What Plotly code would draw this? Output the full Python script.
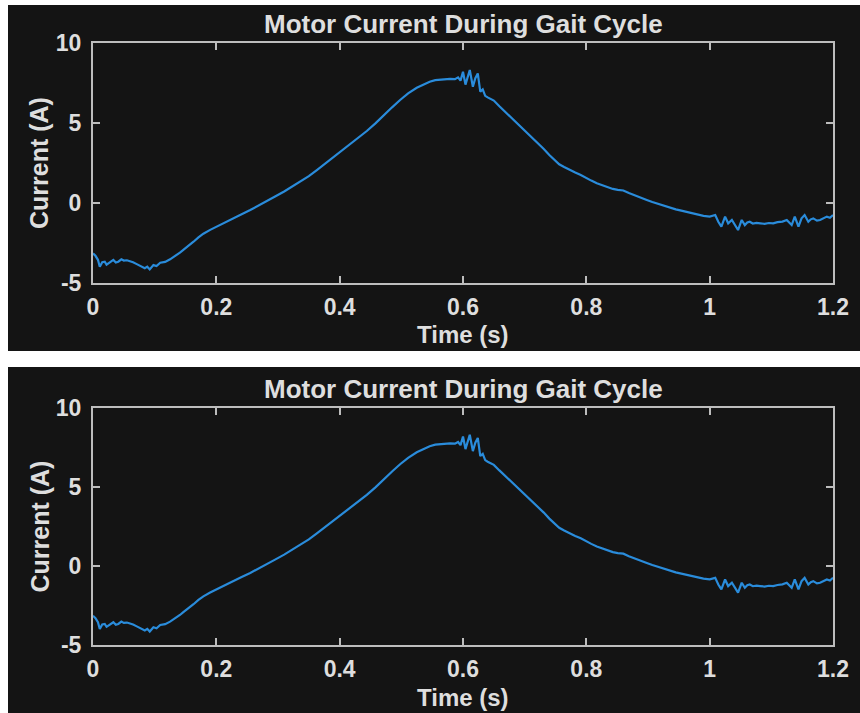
import plotly.graph_objects as go

# Motor current samples over one gait cycle
time_s = [
    0.000, 0.004, 0.008, 0.011, 0.015, 0.019, 0.022, 0.025, 0.029, 0.033,
    0.037, 0.041, 0.046, 0.050, 0.055, 0.060, 0.065, 0.071, 0.077, 0.084,
    0.088, 0.092, 0.098, 0.103, 0.109, 0.117, 0.125, 0.130, 0.136, 0.141,
    0.146, 0.155, 0.163, 0.171, 0.179, 0.190, 0.200, 0.213, 0.227, 0.241,
    0.255, 0.268, 0.282, 0.296, 0.310, 0.323, 0.336, 0.350, 0.363, 0.377,
    0.390, 0.404, 0.417, 0.431, 0.444, 0.458, 0.471, 0.485, 0.498, 0.511,
    0.525, 0.536, 0.546, 0.555, 0.563, 0.571, 0.579, 0.587, 0.592, 0.596,
    0.600, 0.604, 0.608, 0.611, 0.616, 0.620, 0.624, 0.628, 0.632, 0.636,
    0.640, 0.645, 0.650, 0.659, 0.668, 0.677, 0.686, 0.695, 0.704, 0.713,
    0.722, 0.731, 0.740, 0.748, 0.756, 0.764, 0.773, 0.782, 0.791, 0.800,
    0.808, 0.817, 0.826, 0.835, 0.843, 0.851, 0.860, 0.869, 0.878, 0.888,
    0.898, 0.907, 0.916, 0.926, 0.936, 0.945, 0.954, 0.963, 0.972, 0.981,
    0.990, 1.000, 1.005, 1.009, 1.014, 1.019, 1.025, 1.030, 1.036, 1.041,
    1.046, 1.052, 1.057, 1.061, 1.065, 1.070, 1.076, 1.082, 1.089, 1.096,
    1.103, 1.110, 1.118, 1.125, 1.133, 1.138, 1.144, 1.149, 1.154, 1.160,
    1.164, 1.168, 1.174, 1.179, 1.185, 1.190, 1.195, 1.200,
]
current_a = [
    -3.15, -3.30, -3.55, -3.98, -3.70, -3.67, -3.85, -3.77, -3.62, -3.56,
    -3.72, -3.67, -3.52, -3.60, -3.58, -3.62, -3.70, -3.82, -3.92, -4.08,
    -3.98, -4.15, -3.88, -3.94, -3.73, -3.68, -3.52, -3.40, -3.25, -3.10,
    -2.94, -2.68, -2.42, -2.15, -1.92, -1.68, -1.48, -1.22, -0.96, -0.70,
    -0.44, -0.18, 0.12, 0.42, 0.72, 1.02, 1.33, 1.68, 2.06, 2.48,
    2.90, 3.30, 3.73, 4.12, 4.50, 4.98, 5.48, 5.98, 6.44, 6.85,
    7.20, 7.42, 7.58, 7.68, 7.72, 7.75, 7.76, 7.74, 7.85, 7.65,
    8.20, 7.40, 8.00, 8.31, 7.27, 7.80, 8.10, 6.96, 7.10, 6.70,
    6.60, 6.52, 6.40, 6.05, 5.72, 5.38, 5.02, 4.70, 4.40, 4.08,
    3.72, 3.38, 3.00, 2.68, 2.42, 2.25, 2.05, 1.90, 1.75, 1.55,
    1.40, 1.23, 1.10, 1.00, 0.88, 0.82, 0.78, 0.62, 0.50, 0.35,
    0.19, 0.06, -0.05, -0.18, -0.33, -0.40, -0.48, -0.56, -0.66, -0.72,
    -0.80, -0.85, -0.80, -0.75, -1.17, -1.48, -0.85, -1.27, -1.06, -1.38,
    -1.69, -1.06, -1.38, -1.22, -1.17, -1.28, -1.24, -1.27, -1.30, -1.25,
    -1.27, -1.20, -1.16, -1.06, -1.38, -0.85, -1.48, -0.96, -0.75, -1.17,
    -1.02, -0.96, -1.10, -1.06, -0.95, -0.85, -0.92, -0.75,
]

x_ticks = [0, 0.2, 0.4, 0.6, 0.8, 1.0, 1.2]
x_tick_labels = ["0", "0.2", "0.4", "0.6", "0.8", "1", "1.2"]
y_ticks = [-5, 0, 5, 10]
y_tick_labels = ["-5", "0", "5", "10"]

title_text = "Motor Current During Gait Cycle"
x_label = "Time (s)"
y_label = "Current (A)"

W, H = 860, 713
BG = "#141414"
AXIS = "#bdbdbd"
TEXT = "#dedede"
LINE = "#2a8cdb"
FONT = "Liberation Sans, Arial, sans-serif"


def px_x(p):
    return p / W


def px_y(p):
    return 1 - p / H


# (top, bottom) pixel bounds of each axes box
panels = [(43, 283), (408, 645)]
x_left, x_right = 93, 833

fig = go.Figure()

for i, (top, bottom) in enumerate(panels):
    sfx = "" if i == 0 else str(i + 1)
    fig.add_trace(go.Scatter(
        x=time_s, y=current_a, mode="lines",
        line=dict(color=LINE, width=2.2),
        xaxis="x" + sfx, yaxis="y" + sfx, showlegend=False,
        hoverinfo="skip",
    ))
    common = dict(
        showline=True, linecolor=AXIS, linewidth=2, mirror="ticks",
        ticks="inside", ticklen=7, tickwidth=1.5, tickcolor=AXIS,
        showgrid=False, zeroline=False, automargin=False,
        tickfont=dict(family=FONT, size=23, color=TEXT, weight="bold"),
    )
    fig.layout["xaxis" + sfx] = dict(
        common, domain=[px_x(x_left), px_x(x_right)], range=[0, 1.2],
        tickvals=x_ticks, ticktext=x_tick_labels, ticklabelstandoff=2,
        anchor="y" + sfx,
    )
    fig.layout["yaxis" + sfx] = dict(
        common, domain=[px_y(bottom), px_y(top)], range=[-5, 10],
        tickvals=y_ticks, ticktext=y_tick_labels, ticklabelstandoff=5,
        anchor="x" + sfx,
    )
    cx = (x_left + x_right) / 2
    fig.add_annotation(
        text=title_text, x=px_x(cx), y=px_y(top - 19), xref="paper", yref="paper",
        showarrow=False, xanchor="center", yanchor="middle",
        font=dict(family=FONT, size=26, color=TEXT, weight="bold"),
    )
    fig.add_annotation(
        text=x_label, x=px_x(cx), y=px_y(bottom + 52), xref="paper", yref="paper",
        showarrow=False, xanchor="center", yanchor="middle", borderpad=0,
        font=dict(family=FONT, size=24, color=TEXT, weight="bold"),
    )
    fig.add_annotation(
        text=y_label, x=px_x(39), y=px_y((top + bottom) / 2), xref="paper", yref="paper",
        showarrow=False, xanchor="center", yanchor="middle", textangle=-90,
        font=dict(family=FONT, size=25, color=TEXT, weight="bold"),
    )

# dark figure panels on a white page
fig.add_shape(type="rect", xref="paper", yref="paper", layer="below",
              x0=px_x(8), x1=1, y0=px_y(351), y1=px_y(5),
              fillcolor=BG, line=dict(width=0))
fig.add_shape(type="rect", xref="paper", yref="paper", layer="below",
              x0=px_x(8), x1=1, y0=0, y1=px_y(367),
              fillcolor=BG, line=dict(width=0))

fig.update_layout(
    width=W, height=H,
    margin=dict(l=0, r=0, t=0, b=0),
    paper_bgcolor="white", plot_bgcolor=BG,
)

fig.write_html("out.html")
